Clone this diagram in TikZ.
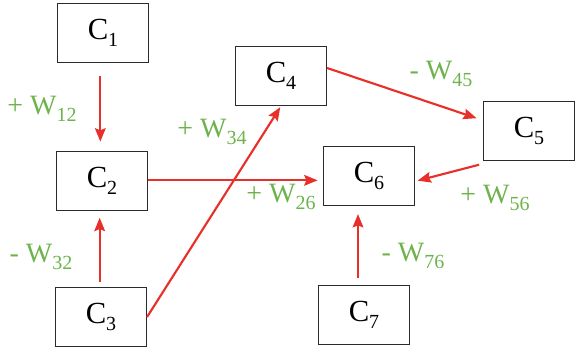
\documentclass[tikz,border=0pt]{standalone}
\usepackage{fontspec}
\setmainfont{Liberation Serif}
\usetikzlibrary{arrows.meta,positioning}
\definecolor{linkred}{HTML}{E8302A}
\definecolor{weightgreen}{HTML}{6DB34B}
\definecolor{boxline}{HTML}{2B2B2B}
\newcommand{\cnode}[1]{C\raisebox{-0.5ex}{\fontsize{15}{16}\selectfont #1}}
\newcommand{\wlabel}[2]{#1 W\raisebox{-0.5ex}{\fontsize{15}{16}\selectfont #2}}
\tikzset{
  concept/.style={draw=boxline,line width=1.1pt,minimum width=68pt,minimum height=44pt,inner sep=0pt,font=\fontsize{23}{26}\selectfont},
  link/.style={-{Stealth[length=10pt,width=8pt,inset=1.5pt]},linkred,line width=1.6pt},
  weight/.style={text=weightgreen,font=\fontsize{21}{24}\selectfont,inner sep=0pt}
}
\begin{document}
\begin{tikzpicture}[x=0.75pt,y=-0.75pt]
\useasboundingbox (0,0) rectangle (576,350);
% concepts
\node[concept] (c1) at (103,33){\cnode{1}};
\node[concept] (c2) at (102,181){\cnode{2}};
\node[concept] (c3) at (101,317){\cnode{3}};
\node[concept] (c4) at (281,76){\cnode{4}};
\node[concept] (c5) at (529,131){\cnode{5}};
\node[concept] (c6) at (369,176){\cnode{6}};
\node[concept] (c7) at (364,315){\cnode{7}};
% causal links
\draw[link,shorten <=10pt,shorten >=7pt] ([xshift=-2pt]c1.south) -- ([xshift=-2pt]c1.south |- c2.north);
\draw[link,shorten <=4pt,shorten >=5pt] ([xshift=-1pt]c3.north) -- ([xshift=-1pt]c3.north |- c2.south);
\draw[link,shorten >=4pt] ([yshift=0.5pt]c2.east) -- ([yshift=0.5pt]c2.east -| c6.west);
\draw[link,shorten >=1pt] (c3.east) -- (c4.south);
\draw[link,shorten >=5pt] ([yshift=6pt]c4.east) -- ([yshift=8pt]c5.west);
\draw[link,shorten <=3pt,shorten >=2pt] ([yshift=-2pt]c5.south west) -- ([yshift=-4pt]c6.east);
\draw[link,shorten <=5pt,shorten >=6pt] ([xshift=-4.5pt]c7.north) -- ([xshift=-4.5pt]c7.north |- c6.south);
% weights
\node[weight] (w12) at (42,109){\wlabel{+}{12}};
\node[weight] (w34) at (212,132){\wlabel{+}{34}};
\node[weight] (w26) at (281,197){\wlabel{+}{26}};
\node[weight] (w45) at (441,74){\wlabel{-}{45}};
\node[weight] (w56) at (495,198){\wlabel{+}{56}};
\node[weight] (w32) at (41,257){\wlabel{-}{32}};
\node[weight] (w76) at (413,256){\wlabel{-}{76}};
\end{tikzpicture}
\end{document}
